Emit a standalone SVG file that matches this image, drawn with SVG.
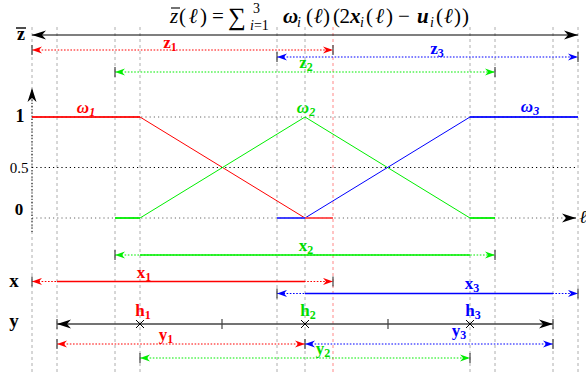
<svg xmlns="http://www.w3.org/2000/svg" width="586" height="377" viewBox="0 0 586 377">
<style>
.vg{stroke:#999;stroke-width:0.8;stroke-dasharray:3 3;fill:none}
.vr{stroke:#ff6a6a;stroke-width:0.8;stroke-dasharray:3 3;fill:none}
.hd{stroke:#666;stroke-width:1;stroke-dasharray:1.2 3;fill:none}
.hk{stroke:#000;stroke-width:1;stroke-dasharray:1.2 3;fill:none}
.tk{stroke:#444;stroke-width:1.2;fill:none}
.r{stroke:#ff0000;fill:none}
.g{stroke:#00ee00;fill:none}
.b{stroke:#0000ff;fill:none}
.dot{stroke-dasharray:1.6 1.6;stroke-width:1.1}
.sol{stroke-width:1.4}
.w{stroke-width:1}
.lbl{font-family:"Liberation Serif","DejaVu Serif",serif;font-weight:bold;font-size:17px}
.tt{font-family:"Liberation Serif","DejaVu Serif",serif;font-size:21px}
.it{font-style:italic}
.sub{font-size:12px}
.fr{fill:#ff0000}.fg{fill:#00dd00}.fb{fill:#0000ff}
</style>
<defs>
<marker id="ak" viewBox="-14 -5 14 10" refX="0" refY="0" markerWidth="14" markerHeight="10" markerUnits="userSpaceOnUse" orient="auto-start-reverse"><path d="M0,0 L-14,-4.5 L-10,0 L-14,4.5 z" fill="#000"/></marker>
<marker id="ar" viewBox="-10 -4 10 8" refX="0" refY="0" markerWidth="10" markerHeight="8" markerUnits="userSpaceOnUse" orient="auto-start-reverse"><path d="M0,0 L-10,-3.6 L-7,0 L-10,3.6 z" fill="#ff0000"/></marker>
<marker id="ag" viewBox="-10 -4 10 8" refX="0" refY="0" markerWidth="10" markerHeight="8" markerUnits="userSpaceOnUse" orient="auto-start-reverse"><path d="M0,0 L-10,-3.6 L-7,0 L-10,3.6 z" fill="#00ee00"/></marker>
<marker id="ab" viewBox="-10 -4 10 8" refX="0" refY="0" markerWidth="10" markerHeight="8" markerUnits="userSpaceOnUse" orient="auto-start-reverse"><path d="M0,0 L-10,-3.6 L-7,0 L-10,3.6 z" fill="#0000ff"/></marker>
</defs>
<rect width="586" height="377" fill="#fff"/>

<!-- vertical guides -->
<g id="guides">
<line class="vg" x1="32" y1="27" x2="32" y2="372"/>
<line class="vg" x1="57" y1="27" x2="57" y2="372"/>
<line class="vg" x1="115" y1="27" x2="115" y2="372"/>
<line class="vg" x1="140" y1="27" x2="140" y2="372"/>
<line class="vg" x1="277" y1="27" x2="277" y2="372"/>
<line class="vg" x1="305" y1="27" x2="305" y2="372"/>
<line class="vr" x1="333" y1="27" x2="333" y2="372"/>
<line class="vg" x1="470" y1="27" x2="470" y2="372"/>
<line class="vg" x1="495" y1="27" x2="495" y2="372"/>
<line class="vg" x1="553" y1="27" x2="553" y2="372"/>
<line class="vg" x1="578" y1="27" x2="578" y2="372"/>
<line class="hd" x1="32" y1="117" x2="578" y2="117"/>
<line class="hk" x1="32" y1="167.5" x2="575" y2="167.5"/>
<line class="hd" x1="32" y1="218" x2="572" y2="218"/>
</g>

<!-- title -->
<g id="title" class="tt">
<text x="170" y="23" class="it">z</text>
<line x1="171" y1="8" x2="180" y2="8" stroke="#000" stroke-width="1.1"/>
<text x="179" y="23" textLength="28" lengthAdjust="spacing">(<tspan class="it">ℓ</tspan>)</text>
<text x="212" y="23">=</text>
<text x="228" y="25" font-size="25">∑</text>
<text x="253" y="13" font-size="14">3</text>
<text x="250" y="30" font-size="14"><tspan class="it">i</tspan>=1</text>
<text x="283" y="23" class="it" font-weight="bold">ω</text>
<text x="297" y="27" font-size="14" class="it">i</text>
<text x="306" y="23" textLength="24" lengthAdjust="spacing">(<tspan class="it">ℓ</tspan>)</text>
<text x="333" y="23" textLength="17" lengthAdjust="spacing">(2</text>
<text x="350" y="23" class="it" font-weight="bold">x</text>
<text x="360" y="27" font-size="14" class="it">i</text>
<text x="366" y="23" textLength="27" lengthAdjust="spacing">(<tspan class="it">ℓ</tspan>)</text>
<text x="398" y="23">−</text>
<text x="417" y="23" class="it" font-weight="bold">u</text>
<text x="430" y="27" font-size="14" class="it">i</text>
<text x="436" y="23" textLength="33" lengthAdjust="spacing">(<tspan class="it">ℓ</tspan>))</text>
</g>

<!-- axis labels -->
<g id="axis-labels" class="lbl">
<text x="21" y="40" text-anchor="middle" font-size="18">z</text>
<line x1="16" y1="28" x2="26" y2="28" stroke="#000" stroke-width="1.4"/>
<text x="20" y="122" text-anchor="middle" font-size="18">1</text>
<text x="19" y="173" text-anchor="middle" font-weight="normal" font-size="15">0.5</text>
<text x="19" y="215" text-anchor="middle" font-size="17">0</text>
<text x="14" y="287" text-anchor="middle" font-size="19">x</text>
<text x="14" y="327" text-anchor="middle" font-size="19">y</text>
<text x="583" y="223" text-anchor="middle" font-weight="normal" font-style="italic" font-size="18">ℓ</text>
</g>

<g id="connectors">
<!-- top zbar axis -->
<line x1="32" y1="35" x2="578" y2="35" stroke="#000" stroke-width="1.2" marker-start="url(#ak)" marker-end="url(#ak)"/>
<!-- z1 -->
<line class="r dot" x1="32" y1="50" x2="333" y2="50" marker-start="url(#ar)" marker-end="url(#ar)"/>
<line class="tk" x1="32" y1="45" x2="32" y2="55"/><line class="tk" x1="333" y1="45" x2="333" y2="55"/>
<!-- z3 -->
<line class="b dot" x1="277" y1="57" x2="578" y2="57" marker-start="url(#ab)" marker-end="url(#ab)"/>
<line class="tk" x1="277" y1="52" x2="277" y2="62"/><line class="tk" x1="578" y1="52" x2="578" y2="62"/>
<!-- z2 -->
<line class="g dot" x1="115" y1="72" x2="495" y2="72" marker-start="url(#ag)" marker-end="url(#ag)"/>
<line class="tk" x1="115" y1="67" x2="115" y2="77"/><line class="tk" x1="495" y1="67" x2="495" y2="77"/>

<!-- y axis (weights) -->
<line class="hk" x1="32" y1="232" x2="32" y2="88" marker-end="url(#ak)" style="stroke-dasharray:1.2 2"/>
<!-- l axis arrow -->
<line x1="568" y1="218" x2="576" y2="218" stroke="#000" stroke-width="1" marker-end="url(#ak)"/>

<!-- weights -->
<polyline class="r w" points="32,117 140,117 305,218 333,218"/>
<polyline class="g w" points="115,218 140,218 305,117 470,218 495,218"/>
<polyline class="b w" points="277,218 305,218 470,117 578,117"/>
<line x1="305" y1="218" x2="333" y2="218" stroke="#ff5050" stroke-width="1.6"/>
<line x1="277" y1="218" x2="305" y2="218" stroke="#3333ff" stroke-width="1.6"/>
<line x1="115" y1="218" x2="140" y2="218" stroke="#00ee00" stroke-width="1.6"/>
<line x1="470" y1="218" x2="495" y2="218" stroke="#00ee00" stroke-width="1.6"/>
<line x1="32" y1="117" x2="140" y2="117" stroke="#ff0000" stroke-width="1.4"/>
<line x1="470" y1="117" x2="578" y2="117" stroke="#0000ff" stroke-width="1.4"/>

<!-- x2 -->
<line class="g dot" x1="115" y1="255" x2="495" y2="255" marker-start="url(#ag)" marker-end="url(#ag)"/>
<line class="g sol" x1="140" y1="255" x2="470" y2="255"/>
<line class="tk" x1="115" y1="250" x2="115" y2="260"/><line class="tk" x1="495" y1="250" x2="495" y2="260"/>
<!-- x1 -->
<line class="r dot" x1="32" y1="281.5" x2="333" y2="281.5" marker-start="url(#ar)" marker-end="url(#ar)"/>
<line class="r sol" x1="57" y1="281.5" x2="305" y2="281.5"/>
<line class="tk" x1="32" y1="276.5" x2="32" y2="286.5"/><line class="tk" x1="333" y1="276.5" x2="333" y2="286.5"/>
<!-- x3 -->
<line class="b dot" x1="277" y1="293.5" x2="578" y2="293.5" marker-start="url(#ab)" marker-end="url(#ab)"/>
<line class="b sol" x1="305" y1="293.5" x2="553" y2="293.5"/>
<line class="tk" x1="277" y1="288.5" x2="277" y2="298.5"/><line class="tk" x1="578" y1="288.5" x2="578" y2="298.5"/>

<!-- y -->
<line x1="57" y1="324" x2="553" y2="324" stroke="#444" stroke-width="1.3" marker-start="url(#ak)" marker-end="url(#ak)"/>
<line class="tk" x1="57" y1="319" x2="57" y2="329"/><line class="tk" x1="553" y1="319" x2="553" y2="329"/>
<line class="tk" x1="222" y1="319" x2="222" y2="329"/><line class="tk" x1="388" y1="319" x2="388" y2="329"/>
<path d="M136,320 L144,328 M136,328 L144,320 M301,320 L309,328 M301,328 L309,320 M466,320 L474,328 M466,328 L474,320" stroke="#000" stroke-width="1" fill="none"/>

<!-- y1, y3 -->
<line class="r dot" x1="57" y1="344" x2="305" y2="344" marker-start="url(#ar)" marker-end="url(#ar)"/>
<line class="b dot" x1="305" y1="344" x2="553" y2="344" marker-start="url(#ab)" marker-end="url(#ab)"/>
<line class="tk" x1="57" y1="339" x2="57" y2="349"/><line class="tk" x1="305" y1="339" x2="305" y2="349"/><line class="tk" x1="553" y1="339" x2="553" y2="349"/>
<!-- y2 -->
<line class="g dot" x1="140" y1="358" x2="470" y2="358" marker-start="url(#ag)" marker-end="url(#ag)"/>
<line class="tk" x1="140" y1="353" x2="140" y2="363"/><line class="tk" x1="470" y1="353" x2="470" y2="363"/>
</g>

<g id="labels" class="lbl">
<text x="170" y="48" text-anchor="middle" class="fr">z<tspan class="sub" dy="3">1</tspan></text>
<text x="437" y="54" text-anchor="middle" class="fb">z<tspan class="sub" dy="3">3</tspan></text>
<text x="306" y="68" text-anchor="middle" class="fg">z<tspan class="sub" dy="3">2</tspan></text>
<text x="86" y="113" text-anchor="middle" class="fr it">ω<tspan class="sub" dy="3">1</tspan></text>
<text x="306" y="113" text-anchor="middle" class="fg it">ω<tspan class="sub" dy="3">2</tspan></text>
<text x="530" y="112" text-anchor="middle" class="fb it">ω<tspan class="sub" dy="3">3</tspan></text>
<text x="306" y="251" text-anchor="middle" class="fg">x<tspan class="sub" dy="3">2</tspan></text>
<text x="144" y="278" text-anchor="middle" class="fr">x<tspan class="sub" dy="3">1</tspan></text>
<text x="472" y="289" text-anchor="middle" class="fb">x<tspan class="sub" dy="3">3</tspan></text>
<text x="143" y="316" text-anchor="middle" class="fr">h<tspan class="sub" dy="3">1</tspan></text>
<text x="308" y="316" text-anchor="middle" class="fg">h<tspan class="sub" dy="3">2</tspan></text>
<text x="473" y="316" text-anchor="middle" class="fb">h<tspan class="sub" dy="3">3</tspan></text>
<text x="166" y="340" text-anchor="middle" class="fr">y<tspan class="sub" dy="3">1</tspan></text>
<text x="459" y="336" text-anchor="middle" class="fb">y<tspan class="sub" dy="3">3</tspan></text>
<text x="323" y="354" text-anchor="middle" class="fg">y<tspan class="sub" dy="3">2</tspan></text>
</g>
</svg>
